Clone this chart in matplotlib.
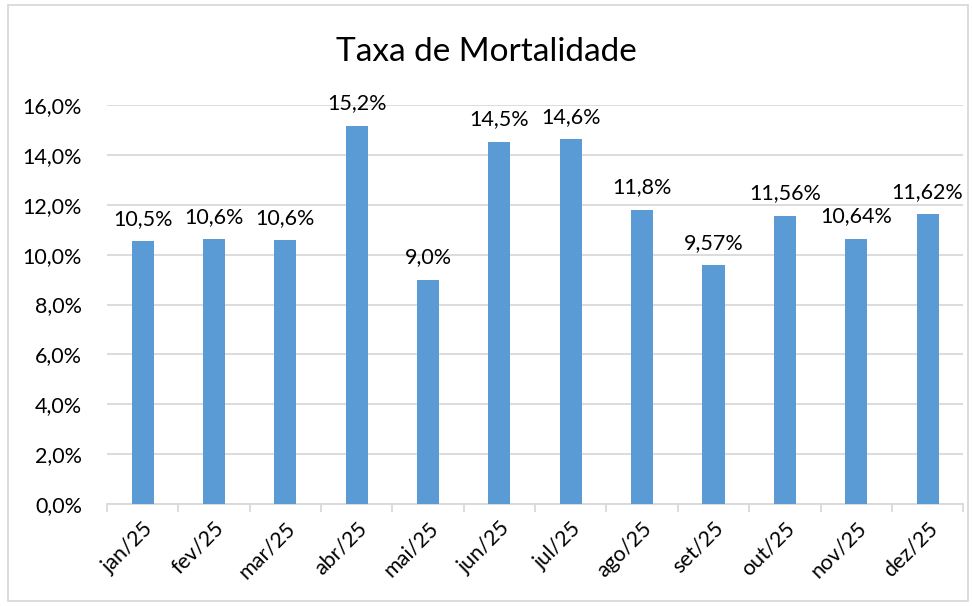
import matplotlib.pyplot as plt
from matplotlib.patches import Rectangle
from matplotlib.ticker import FuncFormatter

plt.rcParams['font.family'] = ['Lato', 'DejaVu Sans']

months = ['jan/25', 'fev/25', 'mar/25', 'abr/25', 'mai/25', 'jun/25',
          'jul/25', 'ago/25', 'set/25', 'out/25', 'nov/25', 'dez/25']
rates = [0.1053, 0.1062, 0.1057, 0.1516, 0.0900, 0.1451,
         0.1462, 0.1180, 0.0957, 0.1156, 0.1064, 0.1162]
labels = ['10,5%', '10,6%', '10,6%', '15,2%', '9,0%', '14,5%',
          '14,6%', '11,8%', '9,57%', '11,56%', '10,64%', '11,62%']

fig = plt.figure(figsize=(9.72, 6.06), dpi=100)
ax = fig.add_axes([0.110, 0.168, 0.881, 0.659])

x = range(len(months))
ax.bar(x, rates, width=0.31, color='#5b9bd5', zorder=3)
for xi, v, lab in zip(x, rates, labels):
    ax.annotate(lab, (xi, v), xytext=(0, 9), textcoords='offset points',
                ha='center', va='bottom', fontsize=15.5, color='#000000')

ax.set_xlim(-0.5, len(months) - 0.5)
ax.set_ylim(0, 0.16)
ax.set_yticks([i * 0.02 for i in range(9)])
ax.yaxis.set_major_formatter(FuncFormatter(lambda v, p: f'{v*100:.1f}%'.replace('.', ',')))
ax.grid(axis='y', color='#d9d9d9', linewidth=1.3, zorder=0)
ax.set_xticks(list(x))
ax.set_xticklabels(months, rotation=45, ha='right', rotation_mode='anchor', fontsize=15.5)
ax.set_xticks([i - 0.5 for i in range(len(months) + 1)], minor=True)
ax.tick_params(axis='x', which='major', length=0, pad=10)
ax.tick_params(axis='x', which='minor', length=6, color='#d9d9d9', width=1.3)
ax.tick_params(axis='y', length=0, labelsize=15.5, pad=18)
for s in ['top', 'right', 'left']:
    ax.spines[s].set_visible(False)
ax.spines['bottom'].set_color('#d9d9d9')
ax.spines['bottom'].set_linewidth(1.3)

fig.text(0.5, 0.915, 'Taxa de Mortalidade', ha='center', va='center', fontsize=24)
fig.patches.append(Rectangle((0.008, 0.008), 0.988, 0.983, transform=fig.transFigure,
                             fill=False, edgecolor='#d9d9d9', linewidth=1.3))

fig.savefig('out.png', dpi=100)
